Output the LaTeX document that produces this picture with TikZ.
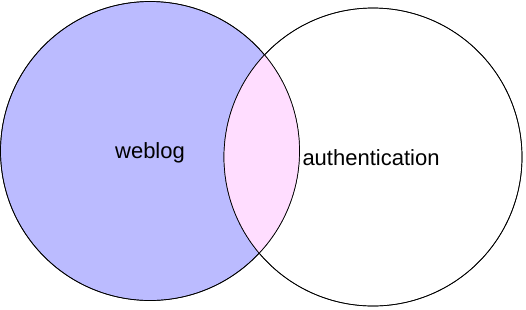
\documentclass[tikz,border=0pt]{standalone}
\usepackage{fontspec}
\setmainfont{Liberation Sans}
\usepackage{tikz}

\definecolor{setblue}{HTML}{BBBBFF}
\definecolor{setpink}{HTML}{FFDDFF}

\begin{document}
\begin{tikzpicture}[
  x=1pt, y=-1pt,
  vennset/.style={draw, circle, line width=0.7pt, inner sep=0pt},
  every node/.style={font=\fontsize{22}{26}\selectfont}
]
  \useasboundingbox (0,0) rectangle (526,309);
  % the two sets
  \node[vennset, fill=setblue, minimum size=299pt] (weblog) at (150,151) {};
  \node[vennset, minimum size=298pt] (auth) at (373,157) {};
  % overlap
  \begin{scope}
    \clip (150,151) circle (149.5);
    \fill[setpink] (373,157) circle (149);
  \end{scope}
  \draw[line width=0.7pt] (150,151) circle (149.5);
  \draw[line width=0.7pt] (373,157) circle (149);

  \node (weblogtext) at (150,153) {weblog};
  \node (authtext)   at (371,158) {authentication};
\end{tikzpicture}
\end{document}
